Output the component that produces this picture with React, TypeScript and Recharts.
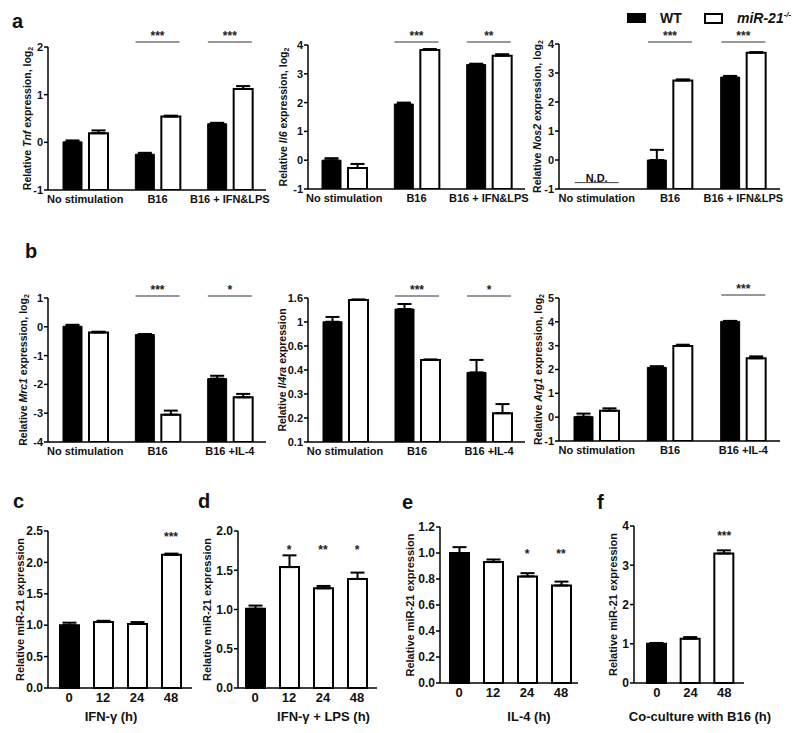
import React from "react";
import { BarChart, Bar, XAxis, YAxis, ErrorBar, ReferenceDot, Cell } from "recharts";

const FONT = "'Liberation Sans', Arial, sans-serif";
const INK = "#111";

// ---- panel a ----
const aGroups = ["No stimulation", "B16", "B16 + IFN&LPS"];

const tnfWT = [0.01, -0.25, 0.39];
const tnfWTErr = [0.03, 0.03, 0.02];
const tnfKO = [0.19, 0.54, 1.12];
const tnfKOErr = [0.06, 0.02, 0.06];
const tnfSig = ["", "***", "***"];

const il6WT = [0.0, 1.95, 3.32];
const il6WTErr = [0.07, 0.05, 0.03];
const il6KO = [-0.27, 3.83, 3.63];
const il6KOErr = [0.14, 0.03, 0.05];
const il6Sig = ["", "***", "**"];

const nos2WT = [null, 0.0, 2.86];
const nos2WTErr = [0, 0.35, 0.04];
const nos2KO = [null, 2.74, 3.7];
const nos2KOErr = [0, 0.04, 0.02];
const nos2Sig = ["", "***", "***"];
const nos2Note = ["N.D.", "", ""];

// ---- panel b ----
const bGroups = ["No stimulation", "B16", "B16 +IL-4"];

const mrc1WT = [0.02, -0.27, -1.8];
const mrc1WTErr = [0.05, 0.02, 0.1];
const mrc1KO = [-0.2, -3.05, -2.45];
const mrc1KOErr = [0.03, 0.14, 0.12];
const mrc1Sig = ["", "***", "*"];

// Il4ra axis has evenly spaced, unevenly valued tick labels; values are tick positions
const il4raTickLabels = ["0.1", "0.2", "0.3", "0.4", "0.6", "1", "1.6"];
const il4raWT = [5.01, 5.54, 2.9];
const il4raWTErr = [0.2, 0.21, 0.52];
const il4raKO = [5.92, 3.42, 1.2];
const il4raKOErr = [0.02, 0.02, 0.38];
const il4raSig = ["", "***", "*"];

const arg1WT = [0.02, 2.09, 4.02];
const arg1WTErr = [0.13, 0.05, 0.02];
const arg1KO = [0.27, 2.99, 2.47];
const arg1KOErr = [0.1, 0.05, 0.08];
const arg1Sig = ["", "", "***"];

// ---- panels c-f ----
const hours4 = ["0", "12", "24", "48"];
const hours3 = ["0", "24", "48"];

const ifnMir = [1.0, 1.05, 1.02, 2.12];
const ifnMirErr = [0.04, 0.02, 0.03, 0.02];
const ifnSig = ["", "", "", "***"];

const lpsMir = [1.01, 1.54, 1.27, 1.39];
const lpsMirErr = [0.04, 0.15, 0.03, 0.08];
const lpsSig = ["", "*", "**", "*"];

const il4Mir = [1.0, 0.93, 0.82, 0.75];
const il4MirErr = [0.045, 0.02, 0.025, 0.03];
const il4Sig = ["", "", "*", "**"];

const coMir = [1.0, 1.13, 3.3];
const coMirErr = [0.02, 0.04, 0.08];
const coSig = ["", "", "***"];

const AXW = 40;
const TOP = 30;
const BOTTOM = 6;

const tickStyle = (size: number) => ({ fontSize: size, fontWeight: 700, fill: INK, fontFamily: FONT });

function yLabel(parts: React.ReactNode, dx: number, size: number) {
  return (props: any) => {
    const vb = props.viewBox;
    const cx = vb.x + vb.width - dx;
    const cy = vb.y + vb.height / 2;
    return (
      <text
        x={cx}
        y={cy}
        transform={`rotate(-90 ${cx} ${cy})`}
        textAnchor="middle"
        dominantBaseline="central"
        fontSize={size}
        fontWeight={700}
        fontFamily={FONT}
        fill={INK}
      >
        {parts}
      </text>
    );
  };
}

function xLabel(text: string, dx: number, dy: number) {
  return (props: any) => {
    const vb = props.viewBox;
    return (
      <text x={vb.x + vb.width / 2 + dx} y={vb.y + dy} textAnchor="middle" fontSize={13} fontWeight={700} fontFamily={FONT} fill={INK}>
        {text}
      </text>
    );
  };
}

function SigMark({ cx, cy, text, half, lineDy }: any) {
  return (
    <g>
      <line x1={cx - half} x2={cx + half} y1={cy - lineDy} y2={cy - lineDy} stroke="#333" strokeWidth={1} />
      <text x={cx} y={cy - lineDy - 2} textAnchor="middle" fontSize={12} fontWeight={700} fontFamily={FONT} fill="#222">
        {text}
      </text>
    </g>
  );
}

function NoteMark({ cx, cy, text }: any) {
  return (
    <g>
      <line x1={cx - 22} x2={cx + 22} y1={cy} y2={cy} stroke="#444" strokeWidth={1} />
      <text x={cx} y={cy - 1} textAnchor="middle" fontSize={11} fontWeight={700} fontFamily={FONT} fill={INK}>
        {text}
      </text>
    </g>
  );
}

type GroupProps = {
  px: number; py: number; pw: number; ph: number;
  groups: string[];
  wt: (number | null)[]; wtErr: number[];
  ko: (number | null)[]; koErr: number[];
  sig: string[]; notes?: string[]; noteY?: number;
  domain: [number, number]; ticks: number[]; tickLabels?: string[];
  label: React.ReactNode; labelDx: number; pad: number; lineDy: number;
};

function GroupChart(p: GroupProps) {
  const [min, max] = p.domain;
  const data = p.groups.map((g, i) => ({
    group: g,
    wt: p.wt[i],
    ko: p.ko[i],
    wtErr: [0, p.wtErr[i]],
    koErr: [0, p.koErr[i]],
  }));
  const XH = 24;
  const RIGHT = 20;
  return (
    <div style={{ position: "absolute", left: p.px - AXW, top: p.py - TOP }}>
      <BarChart
        width={AXW + p.pw + RIGHT}
        height={TOP + p.ph + XH + BOTTOM}
        data={data}
        margin={{ top: TOP, right: RIGHT, left: 0, bottom: BOTTOM }}
        barSize={19}
        barGap={7}
      >
        <XAxis
          dataKey="group"
          height={XH}
          interval={0}
          tickLine={false}
          tickSize={0}
          tickMargin={5}
          padding={{ left: p.pad, right: 0 }}
          axisLine={{ stroke: "#000", strokeWidth: 1.5 }}
          tick={tickStyle(11)}
        />
        <YAxis
          width={AXW}
          type="number"
          domain={p.domain}
          ticks={p.ticks}
          interval={0}
          allowDataOverflow
          tickSize={4}
          tickMargin={1}
          tickFormatter={(v: number) => (p.tickLabels ? p.tickLabels[v] : String(v))}
          axisLine={{ stroke: "#000", strokeWidth: 1.5 }}
          tickLine={{ stroke: "#000", strokeWidth: 1.5 }}
          tick={tickStyle(11)}
          label={yLabel(p.label, p.labelDx, 10.5)}
        />
        <Bar dataKey={(d: any) => [min, d.wt ?? min]} fill="#000" stroke="#000" strokeWidth={1} isAnimationActive={false}>
          <ErrorBar dataKey="wtErr" width={7} stroke="#000" strokeWidth={2} />
        </Bar>
        <Bar dataKey={(d: any) => [min, d.ko ?? min]} fill="#fff" stroke="#000" strokeWidth={2} isAnimationActive={false}>
          <ErrorBar dataKey="koErr" width={7} stroke="#000" strokeWidth={2} />
        </Bar>
        {p.groups.map((g, i) =>
          p.sig[i] ? (
            <ReferenceDot
              key={"s" + i}
              x={g}
              y={max}
              r={0}
              ifOverflow="visible"
              shape={(sp: any) => <SigMark cx={sp.cx} cy={sp.cy} text={p.sig[i]} half={22} lineDy={p.lineDy} />}
            />
          ) : null
        )}
        {p.notes
          ? p.groups.map((g, i) =>
              p.notes![i] ? (
                <ReferenceDot
                  key={"n" + i}
                  x={g}
                  y={p.noteY!}
                  r={0}
                  ifOverflow="visible"
                  shape={(sp: any) => <NoteMark cx={sp.cx} cy={sp.cy} text={p.notes![i]} />}
                />
              ) : null
            )
          : null}
      </BarChart>
    </div>
  );
}

type TimeProps = {
  px: number; py: number; pw: number; ph: number;
  cats: string[]; values: number[]; errs: number[]; sig: string[]; sigY: number;
  domain: [number, number]; ticks: number[]; digits: number;
  title: string; titleDx: number; titleDy: number; labelDx: number;
  padL: number; padR: number;
};

function TimeChart(p: TimeProps) {
  const data = p.cats.map((c, i) => ({ cat: c, v: p.values[i], err: [0, p.errs[i]] }));
  const XH = 44;
  const RIGHT = 45;
  return (
    <div style={{ position: "absolute", left: p.px - AXW, top: p.py - TOP }}>
      <BarChart
        width={AXW + p.pw + RIGHT}
        height={TOP + p.ph + XH + BOTTOM}
        data={data}
        margin={{ top: TOP, right: RIGHT, left: 0, bottom: BOTTOM }}
        barSize={19}
      >
        <XAxis
          dataKey="cat"
          height={XH}
          interval={0}
          tickLine={false}
          tickSize={0}
          tickMargin={5}
          padding={{ left: p.padL, right: p.padR }}
          axisLine={{ stroke: "#000", strokeWidth: 1.5 }}
          tick={tickStyle(13)}
          label={xLabel(p.title, p.titleDx, p.titleDy)}
        />
        <YAxis
          width={AXW}
          type="number"
          domain={p.domain}
          ticks={p.ticks}
          interval={0}
          tickSize={4}
          tickMargin={1}
          tickFormatter={(v: number) => v.toFixed(p.digits)}
          axisLine={{ stroke: "#000", strokeWidth: 1.5 }}
          tickLine={{ stroke: "#000", strokeWidth: 1.5 }}
          tick={tickStyle(12)}
          label={yLabel("Relative miR-21 expression", p.labelDx, 11)}
        />
        <Bar dataKey="v" stroke="#000" strokeWidth={2} isAnimationActive={false}>
          {data.map((_, i) => (
            <Cell key={i} fill={i === 0 ? "#000" : "#fff"} />
          ))}
          <ErrorBar dataKey="err" width={7} stroke="#000" strokeWidth={2} />
        </Bar>
        {p.cats.map((c, i) =>
          p.sig[i] ? (
            <ReferenceDot
              key={i}
              x={c}
              y={p.sigY}
              r={0}
              ifOverflow="visible"
              shape={(sp: any) => (
                <text x={sp.cx} y={sp.cy} textAnchor="middle" fontSize={12} fontWeight={700} fontFamily={FONT} fill="#222">
                  {p.sig[i]}
                </text>
              )}
            />
          ) : null
        )}
      </BarChart>
    </div>
  );
}

const it = (s: string) => <tspan fontStyle="italic">{s}</tspan>;
const log2 = (
  <>
    , log<tspan fontSize={7} dy={3}>2</tspan>
  </>
);

export default function App() {
  return (
    <div style={{ position: "absolute", left: 0, top: 0, width: 800, height: 733, background: "#fff", fontFamily: FONT }}>
      <GroupChart
        px={48} py={47} pw={218} ph={143}
        groups={aGroups} wt={tnfWT} wtErr={tnfWTErr} ko={tnfKO} koErr={tnfKOErr} sig={tnfSig}
        domain={[-1, 2]} ticks={[-1, 0, 1, 2]}
        label={<>Relative {it("Tnf")} expression{log2}</>} labelDx={21} pad={1} lineDy={5}
      />
      <GroupChart
        px={308} py={45} pw={217} ph={144}
        groups={aGroups} wt={il6WT} wtErr={il6WTErr} ko={il6KO} koErr={il6KOErr} sig={il6Sig}
        domain={[-1, 4]} ticks={[-1, 0, 1, 2, 3, 4]}
        label={<>Relative {it("Il6")} expression{log2}</>} labelDx={25} pad={0} lineDy={3}
      />
      <GroupChart
        px={559} py={44} pw={221} ph={145}
        groups={aGroups} wt={nos2WT} wtErr={nos2WTErr} ko={nos2KO} koErr={nos2KOErr} sig={nos2Sig}
        notes={nos2Note} noteY={-0.78}
        domain={[-1, 4]} ticks={[-1, 0, 1, 2, 3, 4]}
        label={<>Relative {it("Nos2")} expression{log2}</>} labelDx={22} pad={1} lineDy={2}
      />
      <GroupChart
        px={48} py={298} pw={218} ph={144}
        groups={bGroups} wt={mrc1WT} wtErr={mrc1WTErr} ko={mrc1KO} koErr={mrc1KOErr} sig={mrc1Sig}
        domain={[-4, 1]} ticks={[-4, -3, -2, -1, 0, 1]}
        label={<>Relative {it("Mrc1")} expression{log2}</>} labelDx={25} pad={1} lineDy={2}
      />
      <GroupChart
        px={308} py={298} pw={217} ph={144}
        groups={bGroups} wt={il4raWT} wtErr={il4raWTErr} ko={il4raKO} koErr={il4raKOErr} sig={il4raSig}
        domain={[0, 6]} ticks={[0, 1, 2, 3, 4, 5, 6]} tickLabels={il4raTickLabels}
        label={<>Relative {it("Il4ra")} expression</>} labelDx={26} pad={1} lineDy={2}
      />
      <GroupChart
        px={559} py={298} pw={221} ph={143}
        groups={bGroups} wt={arg1WT} wtErr={arg1WTErr} ko={arg1KO} koErr={arg1KOErr} sig={arg1Sig}
        domain={[-1, 5]} ticks={[-1, 0, 1, 2, 3, 4, 5]}
        label={<>Relative {it("Arg1")} expression{log2}</>} labelDx={21} pad={1} lineDy={3}
      />

      <TimeChart
        px={48} py={531} pw={144} ph={157}
        cats={hours4} values={ifnMir} errs={ifnMirErr} sig={ifnSig} sigY={2.34}
        domain={[0, 2.5]} ticks={[0, 0.5, 1, 1.5, 2, 2.5]} digits={1}
        title="IFN-γ (h)" titleDx={-9} titleDy={33} labelDx={28} padL={4} padR={4}
      />
      <TimeChart
        px={238} py={531} pw={139} ph={157}
        cats={hours4} values={lpsMir} errs={lpsMirErr} sig={lpsSig} sigY={1.71}
        domain={[0, 2]} ticks={[0, 0.5, 1, 1.5, 2]} digits={1}
        title="IFN-γ + LPS (h)" titleDx={16} titleDy={33} labelDx={31} padL={0} padR={3}
      />
      <TimeChart
        px={440} py={527} pw={138} ph={156}
        cats={hours4} values={il4Mir} errs={il4MirErr} sig={il4Sig} sigY={0.96}
        domain={[0, 1.2]} ticks={[0, 0.2, 0.4, 0.6, 0.8, 1, 1.2]} digits={1}
        title="IL-4 (h)" titleDx={20} titleDy={38} labelDx={30} padL={2} padR={0}
      />
      <TimeChart
        px={634} py={526} pw={110} ph={157}
        cats={hours3} values={coMir} errs={coMirErr} sig={coSig} sigY={3.64}
        domain={[0, 4]} ticks={[0, 1, 2, 3, 4]} digits={0}
        title="Co-culture with B16 (h)" titleDx={11} titleDy={38} labelDx={21} padL={6} padR={3}
      />

      <svg width={800} height={733} style={{ position: "absolute", left: 0, top: 0, pointerEvents: "none" }}>
        <g fontFamily={FONT} fontWeight={700} fill={INK} fontSize={20}>
          <text x={12} y={28}>a</text>
          <text x={25} y={258}>b</text>
          <text x={13} y={508}>c</text>
          <text x={198} y={508}>d</text>
          <text x={402} y={509}>e</text>
          <text x={597} y={509}>f</text>
        </g>
        <rect x={627} y={13} width={19} height={10} fill="#000" />
        <text x={660} y={23} fontFamily={FONT} fontWeight={700} fontSize={14} fill={INK}>WT</text>
        <rect x={705} y={14} width={17} height={9} fill="#fff" stroke="#000" strokeWidth={2} />
        <text x={737} y={23} fontFamily={FONT} fontWeight={700} fontStyle="italic" fontSize={14} fill={INK}>
          miR-21<tspan fontSize={8} dy={-6}>-/-</tspan>
        </text>
      </svg>
    </div>
  );
}
